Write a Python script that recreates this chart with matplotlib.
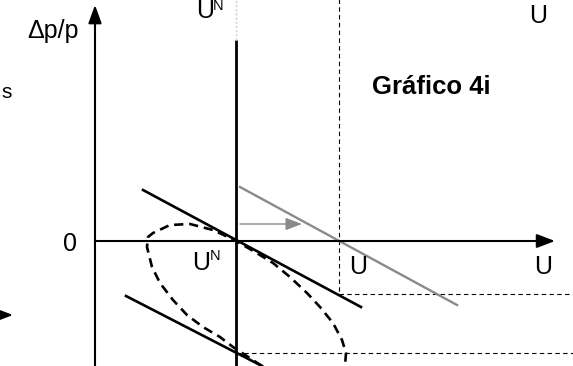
import matplotlib
matplotlib.use("Agg")
import matplotlib.pyplot as plt

# Diagram coordinates: origin at the axes intersection (x right, y up)
U_N = 141          # natural rate position
U_1 = 244          # new unemployment position
Y_LOW1 = -53       # lower dashed level 1
Y_LOW2 = -112      # lower dashed level 2

# Phillips-type lines (start, end)
line1_x = [48, 266]
line1_y = [51, -66]
line2_x = [31, 167]
line2_y = [-55, -125]
gray_x = [145, 362]
gray_y = [54, -64]
shift_x = [145, 207]
shift_y = [17, 17]

# Dashed loop
loop_x = [167, 138, 125, 108, 92, 78, 65, 57, 52, 53, 58, 75, 95, 118, 135,
          141, 160, 178, 195, 212, 225, 238, 247, 251, 250]
loop_y = [-125, -106, -96, -86, -74, -59, -42, -26, -6, 4, 8, 16, 17, 11, 3,
          0, -11, -22, -36, -52, -66, -82, -99, -112, -125]

labels_u = ["U", "U", "U"]
labels_u_x = [263, 448, 443]
labels_u_y = [-26, -26, 225]

fig = plt.figure(figsize=(5.73, 3.66), dpi=100)
ax = fig.add_axes([0, 0, 1, 1])
ax.set_xlim(-95, 478)
ax.set_ylim(-125, 241)
ax.axis("off")

FONT = "Liberation Sans"

# axes with arrows
ax.annotate("", xy=(0, 236), xytext=(0, -130),
            arrowprops=dict(arrowstyle="-|>,head_length=1.1,head_width=0.4",
                            mutation_scale=10, lw=1.5, color="k",
                            shrinkA=0, shrinkB=0))
ax.annotate("", xy=(460, 0), xytext=(0, 0),
            arrowprops=dict(arrowstyle="-|>,head_length=1.1,head_width=0.42",
                            mutation_scale=10, lw=1.5, color="k",
                            shrinkA=0, shrinkB=0))

# vertical natural-rate line
ax.plot([U_N, U_N], [-130, 201], color="k", lw=2.0, solid_capstyle="butt")
ax.plot([U_N, U_N], [201, 245], color="#cccccc", lw=1.0, ls=(0, (1.5, 1.5)))

# dashed guides
ax.plot([U_1, U_1], [245, Y_LOW1], color="k", lw=0.8, ls=(0, (4, 3)))
ax.plot([U_1, 480], [Y_LOW1, Y_LOW1], color="k", lw=0.8, ls=(0, (4, 3)))
ax.plot([U_N, 480], [Y_LOW2, Y_LOW2], color="k", lw=0.8, ls=(0, (4, 3)))

# lines
ax.plot(line1_x, line1_y, color="k", lw=1.9)
ax.plot(line2_x, line2_y, color="k", lw=1.9)
ax.plot(gray_x, gray_y, color="#8a8a8a", lw=1.7)

# dashed loop
ax.plot(loop_x, loop_y, color="k", lw=1.9, ls=(0, (3.5, 2.2)))

# shift arrow
ax.annotate("", xy=(shift_x[1], shift_y[1]), xytext=(shift_x[0], shift_y[0]),
            arrowprops=dict(arrowstyle="-|>,head_length=1.0,head_width=0.38",
                            mutation_scale=10, lw=1.0, color="#8a8a8a",
                            shrinkA=0, shrinkB=0))

# left cropped arrowhead
ax.annotate("", xy=(-82, -74), xytext=(-120, -74),
            arrowprops=dict(arrowstyle="-|>,head_length=1.1,head_width=0.42",
                            mutation_scale=10, lw=1.5, color="k",
                            shrinkA=0, shrinkB=0), annotation_clip=False)

# texts
ax.text(-42, 210, "Δp/p", fontsize=18, family=FONT, ha="center", va="center")
ax.text(-25, -3, "0", fontsize=18, family=FONT, ha="center", va="center")
ax.text(-94, 149, "s", fontsize=15, family=FONT, ha="left", va="center")

ax.text(110.5, 230, "U", fontsize=18, family=FONT, ha="center", va="center")
ax.text(123.5, 235, "N", fontsize=10.5, family=FONT, ha="center", va="center")
ax.text(106, -22, "U", fontsize=18, family=FONT, ha="center", va="center")
ax.text(120, -15, "N", fontsize=10.5, family=FONT, ha="center", va="center")

for t, x, y in zip(labels_u, labels_u_x, labels_u_y):
    ax.text(x, y, t, fontsize=18, family=FONT, ha="center", va="center")

ax.text(336, 154, "Gráfico 4i", fontsize=18.5, family=FONT, weight="bold",
        ha="center", va="center")

fig.savefig("out.png", dpi=100)
